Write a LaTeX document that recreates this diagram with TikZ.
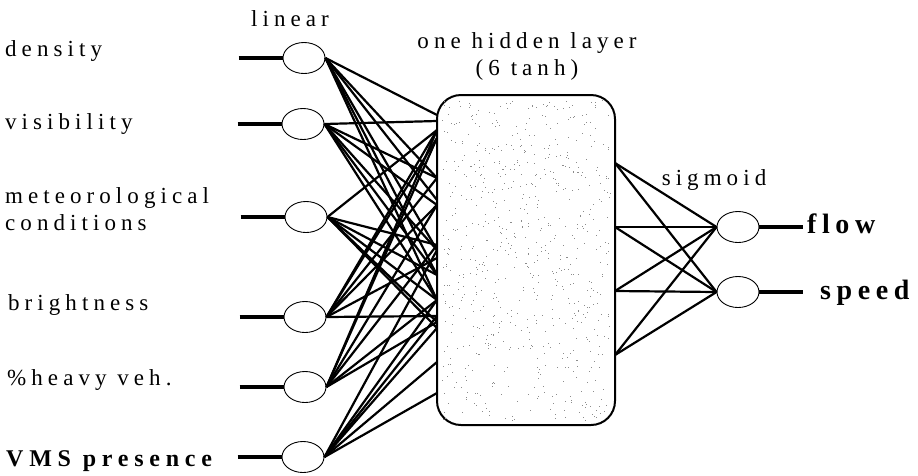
\documentclass[tikz,border=0pt]{standalone}
\usepackage{fontspec}
\usetikzlibrary{shapes.geometric}
\setmainfont{Liberation Serif}
\newfontfamily\lsp[LetterSpace=22]{Liberation Serif}
\newfontfamily\lspb[LetterSpace=24]{Liberation Serif}
\newfontfamily\lspo[LetterSpace=20]{Liberation Serif}
\begin{document}
\begin{tikzpicture}[x=1pt,y=-1pt,
  unit/.style={draw,ellipse,line width=0.9pt,minimum width=42pt,minimum height=31pt,inner sep=0pt},
  stub/.style={line width=3.4pt},
  wire/.style={line width=2.2pt},
  lbl/.style={font=\lsp\fontsize{23}{27}\selectfont,inner sep=0pt},
  olbl/.style={font=\lspo\bfseries\fontsize{28}{32}\selectfont,inner sep=0pt,anchor=base west}]
\useasboundingbox (0,0) rectangle (918,475);

% hidden layer block with a light stipple
\node[draw,line width=2pt,rounded corners=24pt,minimum width=178pt,minimum height=330pt,inner sep=0pt]
  (hid) at (526,260) {};
\pgfmathsetseed{11}
\foreach \k in {1,...,700}{
  \pgfmathsetmacro\rx{442+rnd*168}
  \pgfmathsetmacro\ry{100+rnd*320}
  \fill[black!45] (\rx,\ry) rectangle +(0.9,0.9);
}

% input units
\node[unit] (i1) at (304,58) {};
\node[unit] (i2) at (303,124) {};
\node[unit] (i3) at (306,217) {};
\node[unit] (i4) at (305,317) {};
\node[unit] (i5) at (305,387) {};
\node[unit] (i6) at (303,457) {};

% input stubs
\foreach \n in {1,...,6}{
  \coordinate (s\n) at ([xshift=-44pt]i\n.west);
  \draw[stub] (s\n) -- (i\n.west);
}

% output units and stubs
\node[unit] (o1) at (738,227) {};
\node[unit] (o2) at (738,292) {};
\coordinate (t1) at ([xshift=44pt]o1.east);
\coordinate (t2) at ([xshift=44pt]o2.east);
\draw[stub] (o1.east) -- (t1);
\draw[stub] (o2.east) -- (t2);

% entry points on the left side of the hidden block
\foreach \y in {115,121,130,138,178,200,205,245,250,258,275,300,316,322,328,362,393}{
  \coordinate (L\y) at (437,\y);
}
% exit points on the right side of the hidden block
\foreach \y in {163,227,291,355}{
  \coordinate (R\y) at (615,\y);
}

% input -> hidden connections
\foreach \y in {115,178,200,250,275,300} \draw[wire] (i1.east) -- (L\y);
\foreach \y in {121,178,205,250,275,300} \draw[wire] (i2.east) -- (L\y);
\foreach \y in {130,245,275,300,322,328} \draw[wire] (i3.east) -- (L\y);
\foreach \y in {130,138,178,205,258,316} \draw[wire] (i4.east) -- (L\y);
\foreach \y in {130,138,205,245,300,322} \draw[wire] (i5.east) -- (L\y);
\foreach \y in {250,300,316,328,362,393} \draw[wire] (i6.east) -- (L\y);

% hidden -> output connections
\foreach \y in {163,227,291,355}{
  \draw[wire] (R\y) -- (o1.west);
  \draw[wire] (R\y) -- (o2.west);
}

% labels
\node[lbl,anchor=base west] (la1) at (5,56) {density};
\node[lbl,anchor=base west] (la2) at (5,129) {visibility};
\node[lbl,anchor=base west] (la3) at (5,203) {meteorological};
\node[lbl,anchor=base west] (la3b) at (5,230) {conditions};
\node[lbl,anchor=base west] (la4) at (8,310) {brightness};
\node[lbl,anchor=base west] (la5) at (7,385) {\%heavy veh.};
\node[lbl,anchor=base west,font=\lspb\bfseries\fontsize{24}{28}\selectfont] (la6) at (6,466) {VMS presence};

\node[lbl,anchor=base] (tl) at (290,26) {linear};
\node[lbl,anchor=base] (th1) at (527,48) {one hidden layer};
\node[lbl,anchor=base] (th2) at (527,75) {(6 tanh)};
\node[lbl,anchor=base] (ts) at (714,185) {sigmoid};

\node[olbl] (f) at (807,233) {flow};
\node[olbl] (sp) at (820,299) {speed};
\end{tikzpicture}
\end{document}
